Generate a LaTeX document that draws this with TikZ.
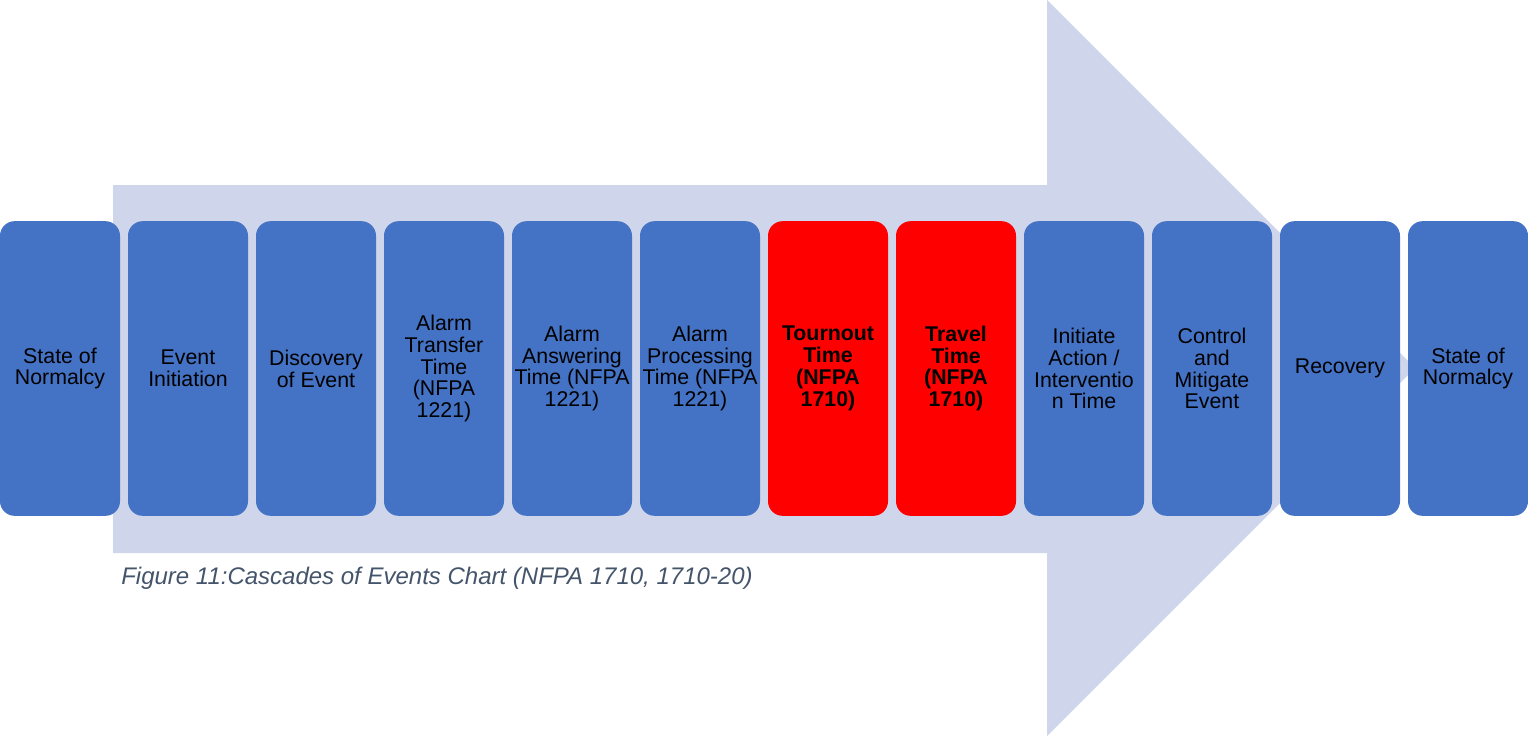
\documentclass[tikz,border=0pt]{standalone}
\usepackage{fontspec}
\setmainfont{Liberation Sans}
\definecolor{cascadeArrow}{HTML}{CFD5EA}
\definecolor{cascadeBlue}{HTML}{4472C4}
\definecolor{cascadeRed}{HTML}{FF0000}
\definecolor{cascadeCaption}{HTML}{44546A}
\tikzset{
  phasebox/.style={fill=cascadeBlue, rounded corners=11pt, minimum width=90pt,
    minimum height=221pt, inner sep=1pt, align=center, text=black,
    font=\fontsize{16}{16.4}\selectfont},
  hotbox/.style={phasebox, fill=cascadeRed, font=\fontsize{16}{16.4}\selectfont\bfseries}
}
\begin{document}
\begin{tikzpicture}
% one unit = one pixel of the 1528x736 layout
\def\pxsz{0.75pt}
\begin{scope}[x=\pxsz, y=-\pxsz]
  \useasboundingbox (0,0) rectangle (1528,736);
  % Background block arrow
  \fill[cascadeArrow] (113,185) -- (1047,185) -- (1047,0) -- (1415,368)
    -- (1047,736) -- (1047,553) -- (113,553) -- cycle;
  % Phase boxes, pitch 128
  \node[phasebox] (normal1)   at (60,368.5)   {State of\\Normalcy};
  \node[phasebox] (initiate)  at (188,368.5)  {Event\\Initiation};
  \node[phasebox] (discover)  at (316,368.5)  {Discovery\\of Event};
  \node[phasebox] (transfer)  at (444,368.5)  {Alarm\\Transfer\\Time\\(NFPA\\1221)};
  \node[phasebox] (answer)    at (572,368.5)  {Alarm\\Answering\\Time (NFPA\\1221)};
  \node[phasebox] (process)   at (700,368.5)  {Alarm\\Processing\\Time (NFPA\\1221)};
  \node[hotbox]   (turnout)   at (828,368.5)  {Tournout\\Time\\(NFPA\\1710)};
  \node[hotbox]   (travel)    at (956,368.5)  {Travel\\Time\\(NFPA\\1710)};
  \node[phasebox] (intervene) at (1084,368.5) {Initiate\\Action /\\Interventio\\n Time};
  \node[phasebox] (mitigate)  at (1212,368.5) {Control\\and\\Mitigate\\Event};
  \node[phasebox] (recover)   at (1340,368.5) {Recovery};
  \node[phasebox] (normal2)   at (1468,368.5) {State of\\Normalcy};
  % Caption
  \node[anchor=base west, inner sep=0pt, text=cascadeCaption,
    font=\fontsize{18}{21}\selectfont\itshape] (caption) at (121,584)
    {Figure 11:Cascades of Events Chart (NFPA 1710, 1710-20)};
\end{scope}
\end{tikzpicture}
\end{document}
